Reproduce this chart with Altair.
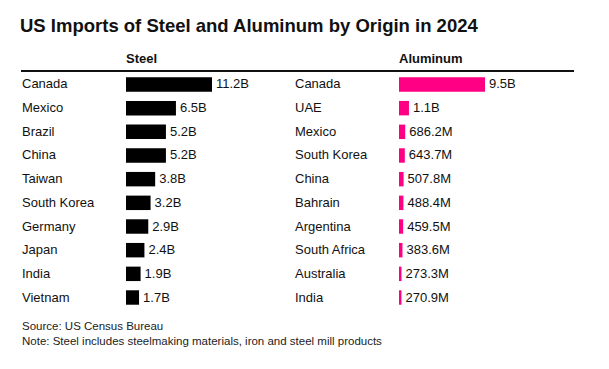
import altair as alt
import pandas as pd

steel_countries = ["Canada", "Mexico", "Brazil", "China", "Taiwan", "South Korea",
                   "Germany", "Japan", "India", "Vietnam"]
steel_values = [11.2, 6.5, 5.2, 5.2, 3.8, 3.2, 2.9, 2.4, 1.9, 1.7]  # billions USD
steel_labels = ["11.2B", "6.5B", "5.2B", "5.2B", "3.8B", "3.2B", "2.9B", "2.4B", "1.9B", "1.7B"]

al_countries = ["Canada", "UAE", "Mexico", "South Korea", "China", "Bahrain",
                "Argentina", "South Africa", "Australia", "India"]
al_values = [9.5, 1.1, 0.6862, 0.6437, 0.5078, 0.4884, 0.4595, 0.3836, 0.2733, 0.2709]
al_labels = ["9.5B", "1.1B", "686.2M", "643.7M", "507.8M", "488.4M", "459.5M",
             "383.6M", "273.3M", "270.9M"]

footer_lines = ["Source: US Census Bureau",
                "Note: Steel includes steelmaking materials, iron and steel mill products"]

FONT = "Liberation Sans"
PINK = "#ff0084"

steel_df = pd.DataFrame({"row": list(range(10)), "country": steel_countries,
                         "value": steel_values, "label": steel_labels})
al_df = pd.DataFrame({"row": list(range(10)), "country": al_countries,
                      "value": al_values, "label": al_labels})
footer_df = pd.DataFrame({"line": list(range(len(footer_lines))), "text": footer_lines})

yenc = alt.Y("row:O", axis=None,
             scale=alt.Scale(paddingInner=0.39, paddingOuter=0.265))


def panel(df, label_x, xrange, domain_max, color, header):
    xs = alt.Scale(domain=[0, domain_max], range=xrange)
    base = alt.Chart(df)
    names = base.mark_text(align="left", baseline="middle", font=FONT,
                           fontSize=13, color="#111111").encode(
        x=alt.value(label_x), y=yenc, text="country:N")
    bars = base.mark_bar(color=color).encode(
        x=alt.X("value:Q", scale=xs, axis=None), y=yenc)
    vals = base.mark_text(align="left", baseline="middle", dx=4, font=FONT,
                          fontSize=13, color="#111111").encode(
        x=alt.X("value:Q", scale=xs, axis=None), y=yenc, text="label:N")
    head = alt.Chart(pd.DataFrame({"h": [header]})).mark_text(
        align="left", baseline="middle", font=FONT, fontSize=13,
        fontWeight="bold", color="#111111").encode(
        x=alt.datum(0, scale=xs), y=alt.value(-12), text="h:N")
    return alt.layer(names, bars, vals, head)


steel = panel(steel_df, 0, [104, 190], 11.2, "#000000", "Steel")
alum = panel(al_df, 273, [377, 463], 9.5, PINK, "Aluminum")

rule = alt.Chart(pd.DataFrame({"a": [0]})).mark_rule(
    color="#111111", strokeWidth=2).encode(
    x=alt.value(-1), x2=alt.value(552), y=alt.value(0))

footer = alt.Chart(footer_df).mark_text(
    align="left", baseline="middle", font=FONT, fontSize=11.5,
    color="#222222").encode(
    x=alt.value(0),
    y=alt.Y("line:O", axis=None,
            scale=alt.Scale(type="point", range=[256, 271], padding=0)),
    text="text:N")

chart = alt.layer(rule, steel, alum, footer).resolve_scale(
    x="independent", y="independent"
).properties(
    width=553, height=240,
    background="white",
    title=alt.TitleParams(
        "US Imports of Steel and Aluminum by Origin in 2024",
        anchor="start", font=FONT, fontSize=18.5, fontWeight="bold",
        color="#111111", offset=18),
    padding={"left": 12, "top": 8, "right": 10, "bottom": 10},
).configure_view(stroke=None)

chart.save("out.html", embed_options={"renderer": "svg", "actions": False})
